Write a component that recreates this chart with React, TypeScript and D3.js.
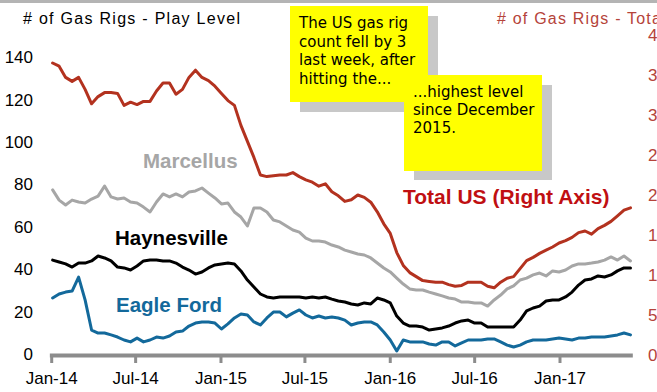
import React from "react";
import * as d3 from "d3";

// Bi-weekly gas rig counts, first reading 3 Jan 2014
const FIRST_WEEK = new Date(2014, 0, 3);
const STEP_DAYS = 14;

// Total US (right axis)
const totalUS = [
  365, 361, 347, 342, 347, 332, 314, 323, 328, 328, 327, 312, 316, 313, 317, 317,
  330, 340, 340, 326, 332, 347, 356, 347, 343, 336, 327, 318, 312, 287, 267, 247,
  225, 223, 224, 225, 225, 228, 223, 219, 216, 211, 214, 204, 199, 192, 194, 200,
  197, 191, 179, 164, 152, 128, 112, 103, 98, 93, 92, 91, 91, 88, 86, 87,
  91, 91, 91, 86, 84, 91, 96, 98, 108, 118, 122, 127, 131, 135, 140, 143,
  147, 153, 155, 151, 158, 162, 167, 174, 181, 184,
];

// Marcellus (left axis)
const marcellus = [
  77.4, 72.6, 70.3, 72.6, 71.7, 71.2, 73.1, 74.5, 79.2, 74.1, 73.1, 73.6, 71.7, 71.2, 69.3, 67,
  71.7, 75.5, 74.1, 75.5, 74.1, 76.4, 76.9, 78.3, 75.9, 73.6, 70.8, 71.2, 67, 64.6, 60.4, 68.9,
  68.9, 67, 63.2, 62.3, 60.4, 58.5, 57.5, 54.7, 53.3, 53.3, 52.8, 51.4, 50.5, 49, 48.1, 47.2,
  46.7, 45.3, 42.9, 40.6, 38.7, 35.8, 33, 30.7, 30.2, 30.2, 29.2, 28.3, 27.4, 26.4, 25.9, 24.5,
  24.5, 24.1, 24.1, 22.6, 25.5, 27.8, 30.7, 32.1, 34.9, 35.8, 37.3, 38.2, 36.8, 39.2, 38.7, 39.6,
  41.5, 42.5, 42.5, 42.9, 43.4, 44.3, 45.8, 44.3, 46.2, 43.9,
];

// Haynesville (left axis)
const haynesville = [
  44.3, 43.4, 42.5, 41, 42.9, 42.9, 43.9, 46.2, 45.3, 43.9, 41, 40.6, 39.6, 41.5, 43.9, 44.3,
  44.3, 43.9, 43.9, 42.9, 41, 39.6, 37.7, 38.7, 40.6, 42, 42.5, 42.9, 42.5, 39.2, 34.9, 31.6,
  28.3, 26.9, 26.4, 26.9, 26.9, 26.9, 26.9, 26.4, 26.9, 26.4, 26.9, 25.9, 25, 24.5, 23.6, 23.1,
  24.1, 23.6, 26.4, 25.5, 24.1, 17.9, 14.6, 13.2, 13.2, 12.7, 11.3, 11.8, 12.3, 13.2, 14.6, 15.6,
  16, 14.6, 14.6, 12.7, 12.7, 12.7, 12.7, 12.7, 16, 20.3, 21.7, 22.6, 25, 25.5, 25.5, 26.9,
  29.2, 32.5, 34.9, 35.4, 36.8, 36.3, 37.3, 39.2, 40.6, 40.6,
];

// Eagle Ford (left axis)
const eagleFord = [
  26.4, 28.3, 29.2, 29.7, 36.3, 25.5, 11.3, 9.9, 9.9, 9, 8, 6.6, 5.7, 7.5, 5.7, 6.6,
  8, 7.5, 8.5, 10.4, 10.8, 13.2, 14.6, 15.1, 15.1, 14.6, 11.8, 14.2, 17, 18.9, 18.4, 15.1,
  13.7, 17, 19.8, 19.8, 17.5, 19.3, 20.8, 18.4, 17, 17.9, 17, 17.5, 17, 16, 13.7, 14.6,
  15.1, 15.1, 13.7, 10.4, 6.6, 1.4, 6.6, 5.7, 5.7, 5.7, 4.7, 4.2, 5.7, 5.7, 3.8, 5.2,
  6.6, 6.6, 6.6, 7.1, 7.1, 5.7, 4.2, 3.3, 4.2, 5.7, 6.6, 6.6, 6.6, 7.1, 7.5, 7.1,
  6.6, 7.5, 7.5, 8, 8, 8, 8.5, 9, 9.9, 9,
];

const leftTicks = [0, 20, 40, 60, 80, 100, 120, 140];
const rightTicks = [0, 50, 100, 150, 200, 250, 300, 350, 400];

const noteOne = ["The US gas rig", "count fell by 3", "last week, after", "hitting the..."];
const noteTwo = ["...highest level", "since December", "2015."];

const W = 657;
const H = 392;
const FONT = "'Liberation Sans', Arial, sans-serif";
const NOTE_FONT = "'Comic Sans MS', 'DejaVu Sans', sans-serif";

const COLORS = {
  total: "#b3321f",
  totalText: "#c00f12",
  rightAxis: "#b5433a",
  marcellus: "#a6a6a6",
  haynesville: "#000000",
  eagle: "#13699b",
  axis: "#8c8c8c",
};

export default function App() {
  const dates = totalUS.map((_, i) => d3.timeDay.offset(FIRST_WEEK, i * STEP_DAYS));

  const x = d3
    .scaleTime()
    .domain([new Date(2014, 0, 1), new Date(2017, 0, 1)])
    .range([51.7, 560]);
  const yLeft = d3.scaleLinear().domain([0, 150]).range([354, 36]);
  const yRight = d3.scaleLinear().domain([0, 400]).range([355, 35]);

  const axisStart = new Date(2013, 11, 28);
  const axisEnd = new Date(2017, 5, 7);
  const xTicks = d3.timeMonth.every(6)!.range(new Date(2014, 0, 1), new Date(2017, 1, 1));
  const fmt = d3.timeFormat("%b-%y");

  const lineLeft = (vals: number[]) =>
    d3
      .line<number>()
      .x((_, i) => x(dates[i]))
      .y((v) => yLeft(v))(vals) || "";
  const lineRight = (vals: number[]) =>
    d3
      .line<number>()
      .x((_, i) => x(dates[i]))
      .y((v) => yRight(v))(vals) || "";

  const baseY = 355.5;

  return (
    <svg
      width={W}
      height={H}
      style={{ position: "absolute", left: 0, top: 0, background: "#fff" }}
    >
      <rect x={0} y={0} width={W} height={3} fill="#b4b4b4" />

      {/* axis titles */}
      <text
        x={23}
        y={24}
        fontFamily={FONT}
        fontSize={16}
        fill="#000"
        textLength={217}
        lengthAdjust="spacing"
      >
        # of Gas Rigs - Play Level
      </text>
      <text
        x={497}
        y={24}
        fontFamily={FONT}
        fontSize={16}
        letterSpacing={1.2}
        fill={COLORS.rightAxis}
      >
        # of Gas Rigs - Total US
      </text>

      {/* left tick labels */}
      {leftTicks.map((t) => (
        <text
          key={"l" + t}
          x={33}
          y={yLeft(t) + 6}
          textAnchor="end"
          fontFamily={FONT}
          fontSize={17}
          fill="#000"
        >
          {t}
        </text>
      ))}

      {/* right tick labels */}
      {rightTicks.map((t) => (
        <text
          key={"r" + t}
          x={648}
          y={yRight(t) + 6}
          fontFamily={FONT}
          fontSize={17}
          fill={COLORS.rightAxis}
        >
          {t}
        </text>
      ))}

      {/* x axis */}
      <line
        x1={x(axisStart)}
        x2={x(axisEnd)}
        y1={baseY}
        y2={baseY}
        stroke={COLORS.axis}
        strokeWidth={4}
      />
      {xTicks.map((d) => (
        <g key={d.toISOString()}>
          <line
            x1={x(d)}
            x2={x(d)}
            y1={baseY}
            y2={363}
            stroke={COLORS.axis}
            strokeWidth={3}
          />
          <text
            x={x(d)}
            y={384}
            textAnchor="middle"
            fontFamily={FONT}
            fontSize={17}
            fill="#000"
          >
            {fmt(d)}
          </text>
        </g>
      ))}

      {/* series */}
      <g fill="none" strokeWidth={3} strokeLinejoin="round" strokeLinecap="round">
        <path d={lineLeft(marcellus)} stroke={COLORS.marcellus} />
        <path d={lineLeft(haynesville)} stroke={COLORS.haynesville} />
        <path d={lineLeft(eagleFord)} stroke={COLORS.eagle} />
        <path d={lineRight(totalUS)} stroke={COLORS.total} />
      </g>

      {/* series labels */}
      <g fontFamily={FONT} fontWeight="bold">
        <text x={143} y={168} fontSize={20.5} fill={COLORS.marcellus}>
          Marcellus
        </text>
        <text x={115} y={245} fontSize={20.5} fill={COLORS.haynesville}>
          Haynesville
        </text>
        <text x={116} y={311.5} fontSize={20.5} fill={COLORS.eagle}>
          Eagle Ford
        </text>
        <text x={403} y={203.5} fontSize={21} fill={COLORS.totalText}>
          Total US (Right Axis)
        </text>
      </g>

      {/* call-out notes */}
      <g fontFamily={NOTE_FONT} fontSize={15} fill="#000">
        <rect x={300} y={16} width={138} height={96} fill="#c8c8c8" />
        <rect x={290} y={6} width={138} height={96} fill="#ffff00" />
        {noteOne.map((s, i) => (
          <text key={s} x={299} y={28 + i * 18.7}>
            {s}
          </text>
        ))}
        <rect x={414} y={85} width={138} height={95} fill="#c8c8c8" />
        <rect x={404} y={75} width={138} height={96} fill="#ffff00" />
        {noteTwo.map((s, i) => (
          <text key={s} x={413} y={97 + i * 18}>
            {s}
          </text>
        ))}
      </g>
    </svg>
  );
}
